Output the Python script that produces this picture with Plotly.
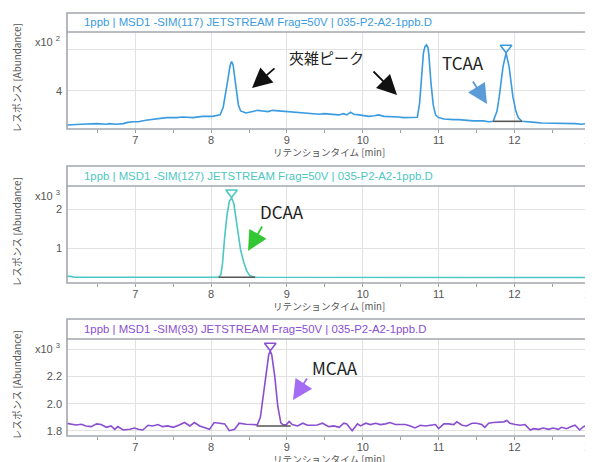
import plotly.graph_objects as go

# ---------------- data ----------------
rt_tcaa = [6.09, 6.22, 6.35, 6.49, 6.62, 6.66, 6.75, 6.84, 6.90, 6.97, 7.04, 7.14, 7.28, 7.41, 7.54,
           7.63, 7.76, 7.89, 8.02, 8.09, 8.12, 8.16, 8.19, 8.22, 8.25, 8.27, 8.29, 8.31, 8.33, 8.36,
           8.39, 8.46, 8.55, 8.61, 8.68, 8.75, 8.81, 8.90, 8.99, 9.07, 9.16, 9.25, 9.34, 9.43, 9.49,
           9.55, 9.62, 9.68, 9.75, 9.79, 9.84, 9.88, 9.95, 10.01, 10.08, 10.15, 10.21, 10.28, 10.34,
           10.41, 10.47, 10.54, 10.61, 10.67, 10.72, 10.75, 10.77, 10.80, 10.82, 10.84, 10.86, 10.87,
           10.90, 10.93, 10.96, 11.00, 11.07, 11.13, 11.20, 11.26, 11.33, 11.40, 11.46, 11.53, 11.59,
           11.66, 11.72, 11.77, 11.80, 11.85, 11.89, 11.93, 11.98, 12.02, 12.05, 12.10, 12.14, 12.21,
           12.27, 12.36, 12.45, 12.54, 12.62, 12.71, 12.80, 12.89, 12.95, 13.02]
ab_tcaa = [234, 238, 239, 241, 238, 241, 238, 241, 247, 250, 250, 257, 263, 270, 270,
           273, 270, 276, 276, 279, 283, 320, 380, 450, 520, 540, 525, 470, 400, 331,
           302, 292, 299, 305, 302, 299, 305, 302, 299, 299, 296, 292, 289, 286, 289,
           288, 286, 283, 289, 283, 296, 286, 283, 279, 276, 279, 283, 276, 276,
           273, 273, 270, 270, 270, 272, 340, 436, 581, 612, 621, 608, 581,
           436, 330, 283, 270, 263, 260, 260, 260, 257, 257, 254, 254, 254,
           250, 252, 300, 371, 516, 581, 516, 371, 300, 270, 252, 250, 250,
           247, 244, 244, 244, 241, 241, 241, 238, 241, 234]

rt_dcaa = [6.09, 6.15, 6.20, 6.30, 7.00, 7.50, 8.00, 8.10, 8.13, 8.15, 8.18, 8.21, 8.24, 8.27,
           8.30, 8.33, 8.36, 8.39, 8.43, 8.47, 8.51, 8.56, 8.60, 9.50, 10.50, 11.50, 12.50, 12.58,
           12.62, 12.68, 12.75, 12.82, 12.86, 12.90, 12.95, 13.02]
ab_dcaa = [282, 280, 258, 257, 256, 257, 256, 257, 330, 600, 1300, 1850, 2200, 2297,
           2150, 1750, 1300, 950, 650, 420, 300, 262, 257, 256, 257, 256, 257, 240,
           238, 252, 255, 252, 240, 248, 250, 235]

rt_mcaa = [6.09, 6.16, 6.22, 6.29, 6.35, 6.42, 6.49, 6.55, 6.62, 6.68, 6.73, 6.77, 6.84, 6.93,
           6.99, 7.04, 7.10, 7.17, 7.23, 7.30, 7.36, 7.43, 7.50, 7.58, 7.65, 7.72, 7.78, 7.85,
           7.91, 7.98, 8.04, 8.11, 8.18, 8.24, 8.31, 8.37, 8.46, 8.55, 8.61, 8.65, 8.69, 8.73,
           8.76, 8.78, 8.80, 8.84, 8.88, 8.92, 8.95, 8.99, 9.03, 9.07, 9.14, 9.21, 9.27, 9.34,
           9.40, 9.47, 9.55, 9.62, 9.69, 9.75, 9.79, 9.86, 9.93, 9.97, 10.04, 10.10, 10.17, 10.23,
           10.30, 10.36, 10.43, 10.50, 10.56, 10.63, 10.69, 10.76, 10.83, 10.89, 10.96, 11.00,
           11.07, 11.13, 11.20, 11.24, 11.31, 11.37, 11.44, 11.50, 11.57, 11.61, 11.66, 11.72,
           11.79, 11.86, 11.90, 11.94, 12.01, 12.08, 12.14, 12.21, 12.25, 12.32, 12.38, 12.45,
           12.51, 12.58, 12.62, 12.69, 12.75, 12.80, 12.86, 12.91, 12.97, 13.02]
ab_mcaa = [1857, 1849, 1844, 1849, 1837, 1832, 1852, 1847, 1827, 1837, 1812, 1832, 1807, 1812,
           1822, 1812, 1807, 1842, 1837, 1847, 1832, 1837, 1827, 1844, 1862, 1837, 1862, 1837,
           1827, 1812, 1862, 1857, 1852, 1802, 1812, 1857, 1849, 1847, 1845, 1900, 2080, 2270,
           2360, 2387, 2360, 2200, 1980, 1860, 1845, 1845, 1870, 1847, 1837, 1857, 1842, 1842,
           1844, 1857, 1832, 1837, 1827, 1857, 1852, 1802, 1852, 1837, 1857, 1847, 1857, 1847,
           1852, 1862, 1847, 1847, 1847, 1837, 1822, 1842, 1837, 1842, 1847, 1817,
           1852, 1852, 1847, 1867, 1842, 1837, 1857, 1857, 1847, 1827, 1857, 1862,
           1862, 1867, 1877, 1857, 1847, 1842, 1847, 1807, 1817, 1812, 1822, 1812,
           1822, 1812, 1827, 1817, 1832, 1842, 1807, 1832, 1842, 1847]

peaks = ["TCAA", "DCAA", "MCAA"]
base_start = [11.72, 8.10, 8.60]
base_end = [12.10, 8.58, 9.05]
base_level = [252, 257, 1837]

titles = ["1ppb | MSD1 -SIM(117) JETSTREAM Frag=50V | 035-P2-A2-1ppb.D",
          "1ppb | MSD1 -SIM(127) JETSTREAM Frag=50V | 035-P2-A2-1ppb.D",
          "1ppb | MSD1 -SIM(93) JETSTREAM Frag=50V | 035-P2-A2-1ppb.D"]
y_ranges = [[215, 683], [110, 2600], [1763, 2476]]
y_tickvals = [[400, 600], [1000, 2000], [1800, 2000, 2200, 2400]]
y_ticktext = [["4", ""], ["1", "2"], ["1.8", "2.0", "2.2", ""]]
exponents = ["2", "3", "3"]
x_ticks = [7, 8, 9, 10, 11, 12, 13]
x_title = "リテンションタイム [min]"
y_title = "レスポンス [Abundance]"

# ---------------- style ----------------
OFF = 8                      # page body margin of the html page
W, H = 593 - OFF, 462 - OFF  # figure size so that it fills the window
colors = ["#3a9be0", "#4dc7c1", "#8a4fd0"]
arrow_colors = ["#5a9bd8", "#33c833", "#a46cf5"]
FONT = "Liberation Sans, Arial, sans-serif"
JFONT = "Noto Sans CJK JP, sans-serif"
plot_px = [(32, 129), (186, 283), (339, 436)]   # top, bottom of plot areas (window px)
bar_px = [(13, 32), (166, 186), (319, 339)]     # title bars (window px)
xtitle_gap = [23, 23, 23]
X0, X1 = 67, 591


def px(x):
    return (x - OFF) / W


def py(y):
    return 1 - (y - OFF) / H


rts = [rt_tcaa, rt_dcaa, rt_mcaa]
abs_ = [ab_tcaa, ab_dcaa, ab_mcaa]

fig = go.Figure()
layout = dict(width=W, height=H, margin=dict(l=0, r=0, t=0, b=0, autoexpand=False),
              paper_bgcolor="white", plot_bgcolor="white", showlegend=False)
annotations = []
shapes = []

for i in range(3):
    sx = "" if i == 0 else str(i + 1)
    xa, ya = "x" + sx, "y" + sx
    top, bot = plot_px[i]
    fig.add_trace(go.Scatter(x=rts[i], y=abs_[i], mode="lines", xaxis=xa, yaxis=ya,
                             line=dict(color=colors[i], width=1.6), hoverinfo="skip"))
    fig.add_trace(go.Scatter(x=[base_start[i], base_end[i]], y=[base_level[i], base_level[i]],
                             mode="lines", xaxis=xa, yaxis=ya,
                             line=dict(color="#555555", width=1.6), hoverinfo="skip"))
    win = [(a, t) for t, a in zip(rts[i], abs_[i]) if base_start[i] <= t <= base_end[i]]
    pk, pk_rt = max(win)
    span = y_ranges[i][1] - y_ranges[i][0]
    fig.add_trace(go.Scatter(x=[pk_rt], y=[pk + 0.055 * span], mode="markers", xaxis=xa, yaxis=ya,
                             marker=dict(symbol="triangle-down-open", size=10, color=colors[i],
                                         line=dict(width=1.6, color=colors[i])),
                             hoverinfo="skip"))

    layout["xaxis" + sx] = dict(domain=[px(X0), px(X1)], range=[6.1, 13.01], anchor=ya,
                                automargin=False, ticklabeloverflow="allow",
                                tickvals=x_ticks, showgrid=True, gridcolor="#e2e2e2", gridwidth=1,
                                ticks="outside", ticklen=1, tickcolor="#a0a0a0",
                                minor=dict(dtick=0.5, tick0=6.5, ticks="outside", ticklen=3,
                                           tickcolor="#a0a0a0", showgrid=False),
                                tickfont=dict(family=FONT, size=11, color="#555555"),
                                zeroline=False, showline=False, fixedrange=True)
    layout["yaxis" + sx] = dict(domain=[py(bot), py(top)], range=y_ranges[i], anchor=xa,
                                automargin=False,
                                tickvals=y_tickvals[i], ticktext=y_ticktext[i],
                                showgrid=True, gridcolor="#e2e2e2", gridwidth=1,
                                ticks="", ticklabelstandoff=4,
                                tickfont=dict(family=FONT, size=11, color="#555555"),
                                zeroline=False, showline=False, fixedrange=True)

    btop, bbot = bar_px[i]
    shapes.append(dict(type="rect", xref="paper", yref="paper", x0=px(X0), x1=px(X1),
                       y0=py(bot), y1=py(btop), line=dict(color="#a2a6ad", width=1.6),
                       fillcolor="rgba(0,0,0,0)", layer="above"))
    shapes.append(dict(type="line", xref="paper", yref="paper", x0=px(X0), x1=px(X1),
                       y0=py(bbot), y1=py(bbot), line=dict(color="#a2a6ad", width=1.6),
                       layer="above"))
    annotations.append(dict(xref="paper", yref="paper", x=px(82), y=py((btop + bbot) / 2),
                            xanchor="left", yanchor="middle", showarrow=False, text=titles[i],
                            font=dict(family=FONT, size=11.4, color=colors[i])))
    annotations.append(dict(xref="paper", yref="paper", x=px(62), y=py(top + 9),
                            xanchor="right", yanchor="middle", showarrow=False,
                            text="x10 <sup>" + exponents[i] + "</sup>",
                            font=dict(family=FONT, size=11, color="#555555")))
    annotations.append(dict(xref="paper", yref="paper", x=px(329), y=py(bot + xtitle_gap[i]),
                            xanchor="center", yanchor="middle", showarrow=False, text=x_title,
                            font=dict(family=JFONT, size=9.6, color="#555555")))
    annotations.append(dict(xref="paper", yref="paper", x=px(16), y=py((top + bot) / 2 - 2),
                            xanchor="center", yanchor="middle", showarrow=False, text=y_title,
                            textangle=-90, font=dict(family=JFONT, size=9.8, color="#555555")))

callouts = [("夾雑ピーク", 287, 57, 15), ("TCAA", 440, 63, 17), ("DCAA", 258, 211, 17),
            ("MCAA", 310, 367, 17)]
for t, x, y, s in callouts:
    annotations.append(dict(xref="paper", yref="paper", x=px(x), y=py(y), xanchor="left",
                            yanchor="middle", showarrow=False, text=t,
                            font=dict(family=JFONT, size=s, color="#222222")))

# arrows: (tip_x, tip_y, tail_x, tail_y, color)
arrows = [(252, 88, 276, 67, "#111111"), (397, 95, 372, 70, "#111111"),
          (487, 104, 472, 80, arrow_colors[0]), (248, 251, 263, 225, arrow_colors[1]),
          (293, 400, 308, 377, arrow_colors[2])]
for tx, ty, ax_, ay_, c in arrows:
    annotations.append(dict(xref="paper", yref="paper", x=px(tx), y=py(ty), ax=ax_ - tx,
                            ay=ay_ - ty, axref="pixel", ayref="pixel", showarrow=True,
                            arrowhead=2, arrowsize=2.2, arrowwidth=1.8, arrowcolor=c, text=""))

layout["annotations"] = annotations
layout["shapes"] = shapes
fig.update_layout(**layout)
fig.write_html("out.html")
